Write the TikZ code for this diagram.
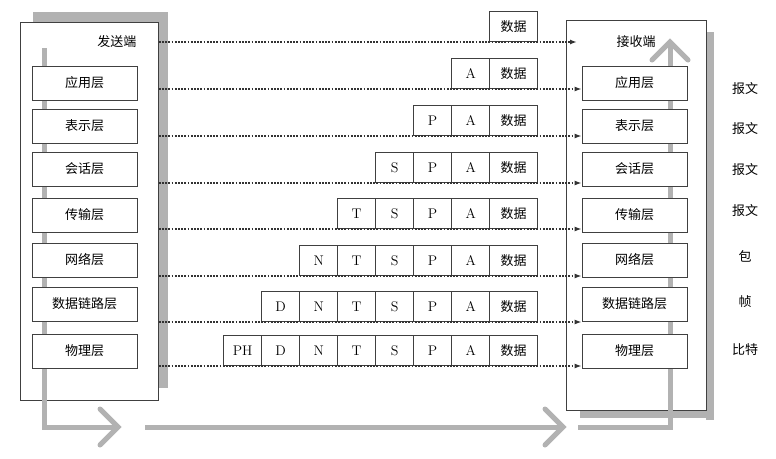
\documentclass[tikz,border=0pt]{standalone}
\usepackage{fontspec}
\newfontfamily\cjk{Noto Sans CJK SC}
\usetikzlibrary{arrows.meta}
\begin{document}
\begin{tikzpicture}[x=1pt,y=-1pt,
  layerbox/.style={draw=black!75,fill=white,line width=0.8pt,minimum width=105pt,minimum height=34pt,inner sep=0pt,font=\cjk\fontsize{13}{13}\selectfont},
  cell/.style={draw=black!75,fill=white,line width=0.7pt,minimum width=38pt,minimum height=30pt,inner sep=0pt,anchor=south east,font=\fontsize{14}{14}\selectfont},
  datacell/.style={cell,minimum width=48pt,font=\cjk\fontsize{13}{13}\selectfont},
  flow/.style={draw=black!80,line width=1.5pt,dash pattern=on 1.8pt off 1.4pt,-{Latex[length=7pt,width=5pt]}},
  grayflow/.style={draw=black!30,line width=5pt},
  side/.style={font=\cjk\fontsize{13}{13}\selectfont}]
\useasboundingbox (0,0) rectangle (776,458);
\fill[black!30] (33,12) rectangle (168,22);
\fill[black!30] (158,12) rectangle (168,388);
\fill[black!30] (706,32) rectangle (714,420);
\fill[black!30] (580,410) rectangle (714,418);
\node[draw=black!75,fill=white,line width=0.8pt,minimum width=138pt,minimum height=378pt,inner sep=0pt,anchor=north west] (send) at (20,22) {};
\node[draw=black!75,fill=white,line width=0.8pt,minimum width=140pt,minimum height=390pt,inner sep=0pt,anchor=north west] (recv) at (566,20) {};
\draw[grayflow] (44,48) -- (44,427) -- (116,427);
\draw[grayflow,line cap=round] (100,409) -- (118,427) -- (100,445);
\draw[grayflow] (145,427) -- (562,427);
\draw[grayflow,line cap=round] (545,409) -- (563,427) -- (545,445);
\draw[grayflow] (578,427) -- (670,427) -- (670,42);
\draw[grayflow,line cap=round] (652,60) -- (670,42) -- (688,60);
\node[font=\cjk\fontsize{13}{13}\selectfont,anchor=east] (st) at (140,42) {发送端};
\node[font=\cjk\fontsize{13}{13}\selectfont] (rt) at (636,42) {接收端};
\foreach \i/\t/\c in {1/应用层/83,2/表示层/126,3/会话层/169,4/传输层/215,5/网络层/260,6/数据链路层/304,7/物理层/351}{
  \node[layerbox] (s\i) at (84.5,\c) {\t};
  \node[layerbox] (r\i) at (634.5,\c) {\t};
}
\foreach \i/\l in {0/42,1/89,2/136,3/183,4/229,5/276,6/322,7/366}{
  \node[datacell] (d\i) at (538,\l) {数据};
}
\foreach \i/\l/\list in {1/89/{A},2/136/{A,P},3/183/{A,P,S},4/229/{A,P,S,T},5/276/{A,P,S,T,N},6/322/{A,P,S,T,N,D},7/366/{A,P,S,T,N,D,PH}}{
  \foreach \h [count=\k] in \list {
    \node[cell] (h\i-\k) at ({490-38*(\k-1)},\l) {\h};
  }
}
\draw[flow] (send.east |- st) -- (recv.west |- st) -- ++(11,0);
\foreach \i/\l in {1/89,2/136,3/183,4/229,5/276,6/322,7/366}{
  \draw[flow] (send.east |- 0,\l) -- (r\i.west |- 0,\l);
}
\foreach \i/\t/\y in {1/报文/89,2/报文/129,3/报文/170,4/报文/211,5/包/256,6/帧/302,7/比特/350}{
  \node[side] (lab\i) at (745,\y) {\t};
}
\end{tikzpicture}
\end{document}
